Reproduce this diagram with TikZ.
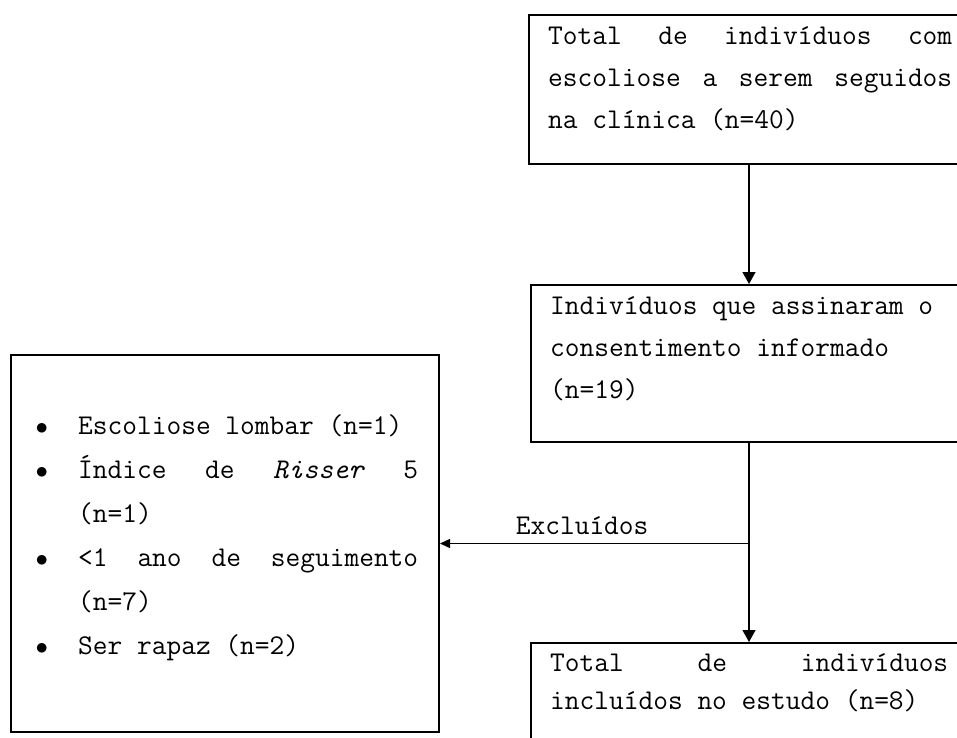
\documentclass[tikz,border=0pt]{standalone}
\usepackage{fontspec}
\usetikzlibrary{arrows.meta}

\newcommand{\flowfont}[1]{\ttfamily\fontsize{28.6}{#1}\selectfont}
\newcommand{\listdot}{\makebox[43.5pt][l]{\hspace{1pt}$\bullet$}}
\newcommand{\listgap}{\hspace*{43.5pt}}

\begin{document}
\begin{tikzpicture}[x=1pt,y=-1pt,line cap=butt,line join=miter,
  flowbox/.style={draw,line width=2pt,inner sep=0pt,anchor=north west},
  flowtext/.style={inner sep=0pt,anchor=base west,font=\flowfont{42}},
  flowarrow/.style={line width=1.4pt,-{Triangle[width=13pt,length=12pt]}}]
  \clip (0,0) rectangle (957,737);
  \node[flowbox,minimum width=440pt,minimum height=149pt] (total) at (528,14) {};
  \node[flowbox,minimum width=436pt,minimum height=157pt] (signed) at (530,284) {};
  \node[flowbox,minimum width=436pt,minimum height=158pt] (included) at (530,642) {};
  \node[flowbox,minimum width=428pt,minimum height=377pt] (excl) at (10,354) {};
  \node[flowtext] (totaltxt) at (548,44) {\parbox[t]{410pt}{%
    \makebox[404pt][l]{Total\hfill de\hfill indivíduos\hfill com}\\
    \makebox[404pt][l]{escoliose\hfill a\hfill serem\hfill seguidos}\\
    na clínica (n=40)}};
  \node[flowtext] (signedtxt) at (550,314) {\parbox[t]{410pt}{%
    Indivíduos que assinaram o\\
    consentimento informado\\
    (n=19)}};
  \node[flowtext,font=\flowfont{38}] (includedtxt) at (550,671) {\parbox[t]{410pt}{%
    \makebox[398pt][l]{Total\hfill de\hfill indivíduos}\\
    incluídos no estudo (n=8)}};
  \node[flowtext,font=\flowfont{44}] (excltxt) at (34.5,434) {\parbox[t]{400pt}{%
    \listdot Escoliose lombar (n=1)\\
    \listdot\makebox[340pt][l]{Índice\hfill de\hfill \textit{Risser}\hfill 5}\\
    \listgap(n=1)\\
    \listdot\makebox[340pt][l]{<1\hfill ano\hfill de\hfill seguimento}\\
    \listgap(n=7)\\
    \listdot Ser rapaz (n=2)}};
  \draw[flowarrow] (total) -- (signed);
  \draw[flowarrow] (signed) -- (included);
  \coordinate (split) at (signed.south |- excl.east);
  \draw[flowarrow,-{Triangle[width=9pt,length=10pt]}] (split) -- (excl.east)
    node[pos=0.54,above=8.5pt,inner sep=0pt,font=\flowfont{42}] (exclabel) {Excluídos};
\end{tikzpicture}
\end{document}
